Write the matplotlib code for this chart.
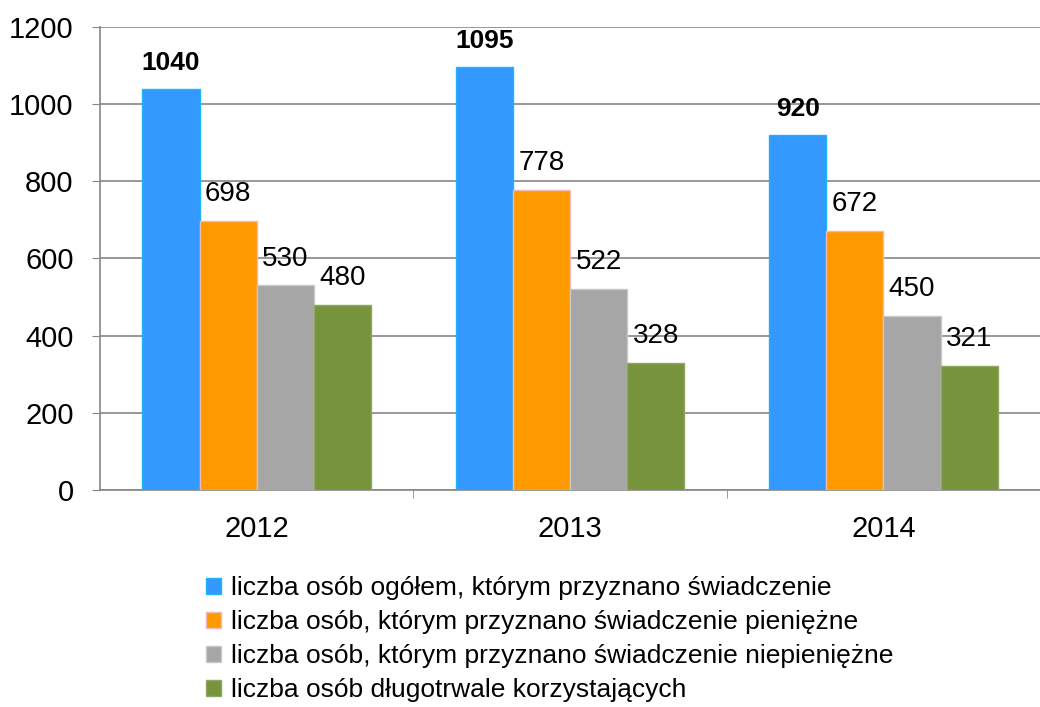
import numpy as np
import matplotlib.pyplot as plt

plt.rcParams['font.family'] = ['Liberation Sans', 'DejaVu Sans']

years = ['2012', '2013', '2014']
ogolem = [1040, 1095, 920]
pieniezne = [698, 778, 672]
niepieniezne = [530, 522, 450]
dlugotrwale = [480, 328, 321]

labels = [
    'liczba osób ogółem, którym przyznano świadczenie',
    'liczba osób, którym przyznano świadczenie pieniężne',
    'liczba osób, którym przyznano świadczenie niepieniężne',
    'liczba osób długotrwale korzystających',
]
colors = ['#3399FF', '#FF9900', '#A6A6A6', '#77933C']
edges = ['#1FB5F5', '#F2B8B8', '#C8C8C8', '#8FA860']

fig = plt.figure(figsize=(10.4, 7.07), dpi=100)
ax = fig.add_axes([0.0962, 0.307, 0.9038, 0.655])

x = np.arange(len(years))
w = 0.1825
series = [ogolem, pieniezne, niepieniezne, dlugotrwale]
for i, vals in enumerate(series):
    bars = ax.bar(x + (i - 1.5) * w, vals, w, color=colors[i], edgecolor=edges[i],
                  linewidth=1, label=labels[i], zorder=3)
    ax.bar_label(bars, padding=10, fontsize=20 if i else 19,
                 fontweight='bold' if i == 0 else 'normal')

ax.set_ylim(0, 1200)
ax.set_yticks(range(0, 1201, 200))
ax.set_xlim(-0.5, 2.484)
ax.set_xticks(x)
ax.set_xticklabels(years)
ax.set_xticks([0.5, 1.5, 2.5], minor=True)
ax.tick_params(axis='x', which='major', length=0, labelsize=21, pad=18)
ax.tick_params(axis='x', which='minor', length=6, color='#868686', direction='out')
ax.tick_params(axis='y', length=6, color='#868686', labelsize=21, pad=13)

ax.yaxis.grid(True, color='#868686', linewidth=1.2, zorder=0)
for s in ['top', 'right']:
    ax.spines[s].set_visible(False)
for s in ['left', 'bottom']:
    ax.spines[s].set_color('#868686')
    ax.spines[s].set_linewidth(1.2)

fig.legend(loc='upper left', bbox_to_anchor=(0.188, 0.2), frameon=False,
           fontsize=19, handlelength=0.55, handleheight=0.55, handletextpad=0.4,
           labelspacing=0.38, borderaxespad=0)

fig.savefig('out.png', dpi=100)
